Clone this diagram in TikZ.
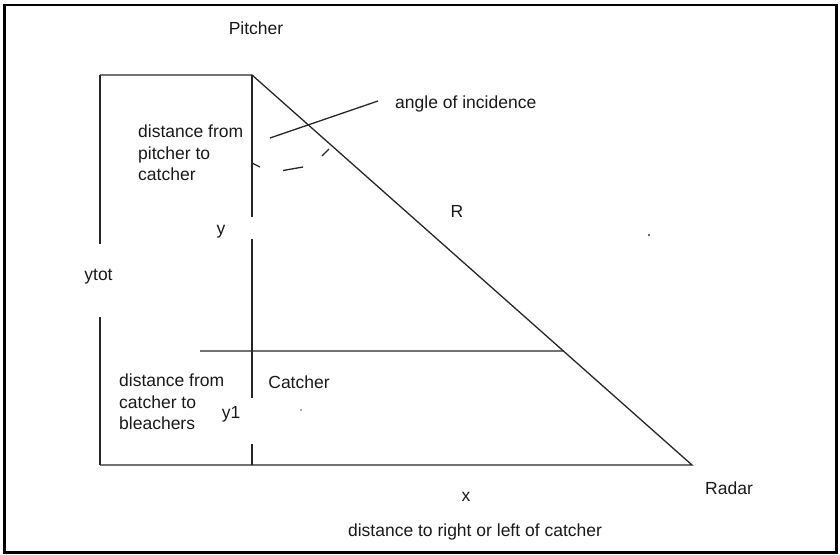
\documentclass[tikz,border=0pt]{standalone}
\usepackage{fontspec}
\setmainfont{Liberation Sans}
\usetikzlibrary{calc}
\begin{document}
\begin{tikzpicture}[x=1pt,y=-1pt,
  line/.style={line width=1.3pt,black!85},
  lbl/.style={inner sep=0pt,font=\fontsize{17.5}{21.5}\selectfont,text=black!90},
  frame/.style={line width=2.6pt,black}]
\useasboundingbox (0,0) rectangle (840,554);
\draw[frame] (4.5,5) rectangle (836.5,552.5);
% key points
\coordinate (P) at (252,75);
\coordinate (TL) at (100,75);
\coordinate (BL) at (100,465);
\coordinate (C) at (252,465);
\coordinate (Rd) at (692,465);
\coordinate (ya) at (100,244);
\coordinate (yb) at (100,317);
\coordinate (v1) at (252,217);
\coordinate (v2) at (252,239);
\coordinate (v3) at (252,398);
\coordinate (v4) at (252,444);
\coordinate (hc) at (200,351);
\coordinate (he) at ($(P)!0.7077!(Rd)$);
\coordinate (a1) at (270,138);
\coordinate (a2) at (378,101);
% lines
\draw[line] (TL) -- (P) -- (Rd) -- (BL);
\draw[line] (TL) -- (ya);
\draw[line] (yb) -- (BL);
\draw[line] (P) -- (v1);
\draw[line] (v2) -- (v3);
\draw[line] (v4) -- (C);
\draw[line] (hc) -- (he);
\draw[line] (a1) -- (a2);
% dashed arc pieces
\draw[line] (252,163) -- (260,167);
\draw[line] (283,170.5) -- (303,167);
\draw[line] (322,156) -- (329,149);
% stray dots
\fill[black!80] (649,235) circle (1.1pt);
\fill[black!60] (301,410) circle (0.8pt);
% labels
\node[lbl] (pitcher) at (256,28) {Pitcher};
\node[lbl,anchor=west] (aoi) at (395,104) {angle of incidence};
\node[lbl,anchor=west,align=left] (dpc) at (138,153) {distance from\\pitcher to\\catcher};
\node[lbl] (R) at (457,211) {R};
\node[lbl] (y) at (221,232) {y};
\node[lbl] (ytot) at (98.5,277) {ytot};
\node[lbl,anchor=west,align=left] (dcb) at (119,402) {distance from\\catcher to\\bleachers};
\node[lbl] (y1) at (231,414) {y1};
\node[lbl] (catcher) at (299,382) {Catcher};
\node[lbl] (x) at (466,497) {x};
\node[lbl] (radar) at (729,488) {Radar};
\node[lbl] (drl) at (475,532) {distance to right or left of catcher};
\end{tikzpicture}
\end{document}
